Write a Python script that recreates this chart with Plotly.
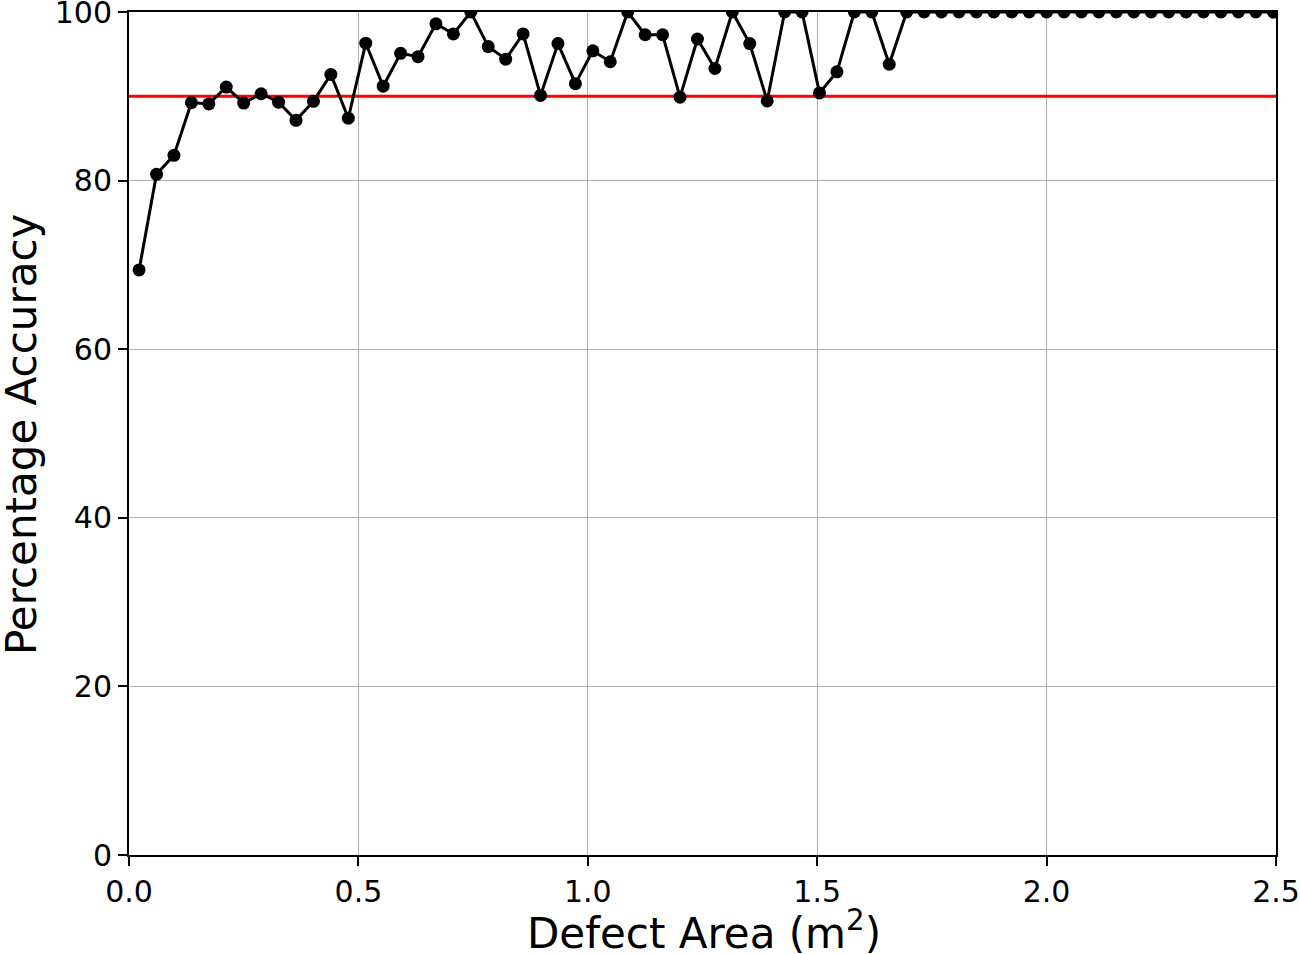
import plotly.graph_objects as go

# Data
defect_area = [
    0.022, 0.060, 0.098, 0.136, 0.174, 0.212, 0.250, 0.288, 0.326, 0.364,
    0.402, 0.440, 0.478, 0.516, 0.554, 0.592, 0.630, 0.669, 0.707, 0.745,
    0.783, 0.821, 0.859, 0.897, 0.935, 0.973, 1.011, 1.049, 1.087, 1.125,
    1.163, 1.201, 1.239, 1.277, 1.315, 1.353, 1.391, 1.429, 1.467, 1.505,
    1.543, 1.581, 1.619, 1.657, 1.695, 1.733, 1.771, 1.809, 1.847, 1.885,
    1.924, 1.962, 2.000, 2.038, 2.076, 2.114, 2.152, 2.190, 2.228, 2.266,
    2.304, 2.342, 2.380, 2.418, 2.456, 2.494,
]
accuracy = [
    69.4, 80.75, 83.0, 89.25, 89.1, 91.1, 89.2, 90.3, 89.3, 87.15,
    89.4, 92.6, 87.4, 96.3, 91.2, 95.1, 94.7, 98.6, 97.4, 100,
    95.9, 94.4, 97.4, 90.1, 96.25, 91.5, 95.4, 94.1, 100, 97.3,
    97.3, 89.9, 96.8, 93.3, 100, 96.25, 89.45, 100, 100, 90.4,
    92.9, 100, 100, 93.8, 100, 100, 100, 100, 100, 100,
    100, 100, 100, 100, 100, 100, 100, 100, 100, 100,
    100, 100, 100, 100, 100, 100,
]
threshold_x = [0.0, 2.5]
threshold_y = [90, 90]

x_ticks = [0.0, 0.5, 1.0, 1.5, 2.0, 2.5]
x_tick_labels = ["0.0", "0.5", "1.0", "1.5", "2.0", "2.5"]
y_ticks = [0, 20, 40, 60, 80, 100]
y_tick_labels = ["0", "20", "40", "60", "80", "100"]

x_title = "Defect Area (m<sup>2</sup>)"
y_title = "Percentage Accuracy"

W, H = 1300, 954
ML, MR, MT, MB = 129, 24, 12, 99
PW, PH = W - ML - MR, H - MT - MB

fig = go.Figure()
fig.add_trace(go.Scatter(
    x=threshold_x, y=threshold_y, mode="lines",
    line=dict(color="#ff0000", width=3), showlegend=False, hoverinfo="skip",
))
fig.add_trace(go.Scatter(
    x=defect_area, y=accuracy, mode="lines+markers",
    line=dict(color="black", width=3),
    marker=dict(color="black", size=13),
    showlegend=False,
))

axis_common = dict(
    showgrid=True, gridcolor="#b0b0b0", gridwidth=1.3,
    showline=True, linecolor="black", linewidth=2, mirror=True,
    ticks="outside", ticklen=9, tickwidth=2, tickcolor="black",
    zeroline=False, automargin=False, ticklabeloverflow="allow",
    tickfont=dict(family="DejaVu Sans", size=30, color="black"),
)

fig.update_layout(
    width=W, height=H,
    margin=dict(l=ML, r=MR, t=MT, b=MB, autoexpand=False),
    plot_bgcolor="white", paper_bgcolor="white",
    font=dict(family="DejaVu Sans", color="black"),
    xaxis=dict(range=[0, 2.5], tickvals=x_ticks, ticktext=x_tick_labels,
               **axis_common),
    yaxis=dict(range=[0, 100], tickvals=y_ticks, ticktext=y_tick_labels,
               **axis_common),
    annotations=[
        dict(text=x_title, xref="paper", yref="paper",
             x=(704 - ML) / PW, y=(H - MB - 930) / PH,
             xanchor="center", yanchor="middle", showarrow=False,
             font=dict(family="DejaVu Sans", size=42, color="black")),
        dict(text=y_title, xref="paper", yref="paper",
             x=(21 - ML) / PW, y=(H - MB - 435) / PH, textangle=-90,
             xanchor="center", yanchor="middle", showarrow=False,
             font=dict(family="DejaVu Sans", size=42, color="black")),
    ],
)

fig.write_html(
    "out.html",
    config={"displayModeBar": False},
    post_script="document.body.style.margin='0px';document.body.style.overflow='hidden';",
)
